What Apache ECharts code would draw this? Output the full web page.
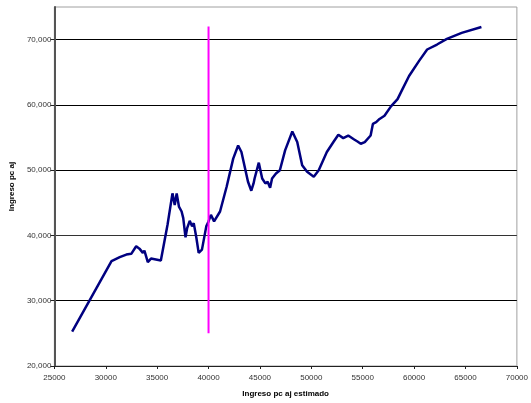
<!DOCTYPE html>
<html>
<head>
<meta charset="utf-8">
<script src="https://cdn.jsdelivr.net/npm/echarts@6/dist/echarts.min.js"></script>
<style>
html,body{margin:0;padding:0;background:#fff;}
#chart{width:531px;height:403px;}
</style>
</head>
<body>
<div id="chart"></div>
<script>
// Estimated income (x) and adjusted income (y) along the traced curve
var incomeEst = [26730, 30560, 31360, 32000, 32480, 32960, 33280, 33610, 33760, 33920, 34090, 34400, 34880, 35360, 35530, 36010, 36490, 36580, 36710, 36900, 37120, 37380, 37540, 37760, 37920, 38170, 38400, 38560, 38820, 39040, 39360, 39520, 39780, 40000, 40230, 40540, 41120, 41760, 42400, 42880, 43200, 43840, 44160, 44380, 44480, 44890, 45220, 45530, 45750, 45990, 46180, 46560, 46940, 47450, 48150, 48630, 49110, 49590, 50240, 50720, 51510, 52150, 52630, 53110, 53590, 54170, 54490, 54810, 55200, 55770, 55990, 56310, 56640, 57120, 57750, 58390, 58870, 59510, 60470, 61270, 62230, 63190, 64630, 66550];
var incomeAdj = [25270, 36070, 36670, 37070, 37180, 38350, 37980, 37330, 37680, 36830, 35910, 36460, 36310, 36160, 36310, 41630, 46450, 46710, 44670, 46450, 44430, 43670, 42650, 39710, 41130, 42240, 41390, 41890, 39610, 37330, 37830, 37590, 41390, 42150, 43150, 42150, 43670, 47470, 51770, 53790, 52790, 48230, 46850, 47970, 48730, 51150, 48730, 47970, 48230, 47310, 48730, 49490, 49990, 53030, 55920, 54310, 50750, 49750, 48990, 49990, 52790, 54310, 55420, 54910, 55310, 54700, 54400, 54050, 54310, 55310, 57090, 57350, 57850, 58350, 59780, 60890, 62410, 64430, 66710, 68490, 69250, 70110, 71030, 71940];
// Vertical cutoff marker
var cutoffX = [40000, 40000];
var cutoffY = [25000, 72000];
// Axis settings
var xTicks = [25000, 30000, 35000, 40000, 45000, 50000, 55000, 60000, 65000, 70000];
var yTicks = [20000, 30000, 40000, 50000, 60000, 70000];
var xTitle = 'Ingreso pc aj estimado';
var yTitle = 'Ingreso pc aj';

var curve = incomeEst.map(function (x, i) { return [x, incomeAdj[i]]; });
var cutoff = cutoffX.map(function (x, i) { return [x, cutoffY[i]]; });

var chart = echarts.init(document.getElementById('chart'), null, {renderer: 'canvas'});
var font = 'Liberation Sans, Arial, sans-serif';
chart.setOption({
  animation: false,
  backgroundColor: '#fff',
  grid: {left: 52, right: 10, top: 7, bottom: 34, show: true, borderColor: '#a0a0a0', borderWidth: 1, backgroundColor: '#fff'},
  xAxis: {
    type: 'value', min: xTicks[0], max: xTicks[xTicks.length - 1], interval: 5000,
    name: xTitle, nameLocation: 'middle', nameGap: 24,
    nameTextStyle: {fontFamily: font, fontSize: 8, fontWeight: 'bold', color: '#000'},
    axisLine: {show: true, lineStyle: {color: '#222', width: 1}},
    axisTick: {show: true, length: 3, lineStyle: {color: '#222'}},
    axisLabel: {fontFamily: font, fontSize: 8, color: '#333', margin: 8,
      formatter: function (v) { return String(v); }},
    splitLine: {show: false}
  },
  yAxis: {
    type: 'value', min: yTicks[0], max: 75000, interval: 10000,
    name: yTitle, nameLocation: 'middle', nameGap: 37, nameRotate: 90,
    nameTextStyle: {fontFamily: font, fontSize: 8, fontWeight: 'bold', color: '#000'},
    axisLine: {show: true, lineStyle: {color: '#555', width: 2}},
    axisTick: {show: true, length: 4, customValues: yTicks, lineStyle: {color: '#222'}},
    axisLabel: {fontFamily: font, fontSize: 8, color: '#333', margin: 3, customValues: yTicks,
      formatter: function (v) { return yTicks.indexOf(v) >= 0 ? v.toLocaleString('en-US') : ''; }},
    splitLine: {show: true, lineStyle: {color: ['#000', '#000', '#333', '#000', '#000', '#000', '#a0a0a0'], width: 1}}
  },
  series: [
    {type: 'line', data: curve, showSymbol: false, symbol: 'none',
      lineStyle: {color: '#000080', width: 2.5}, z: 3},
    {type: 'line', data: cutoff, showSymbol: false, symbol: 'none',
      lineStyle: {color: '#ff00ff', width: 2}, z: 4}
  ]
});
</script>
</body>
</html>
